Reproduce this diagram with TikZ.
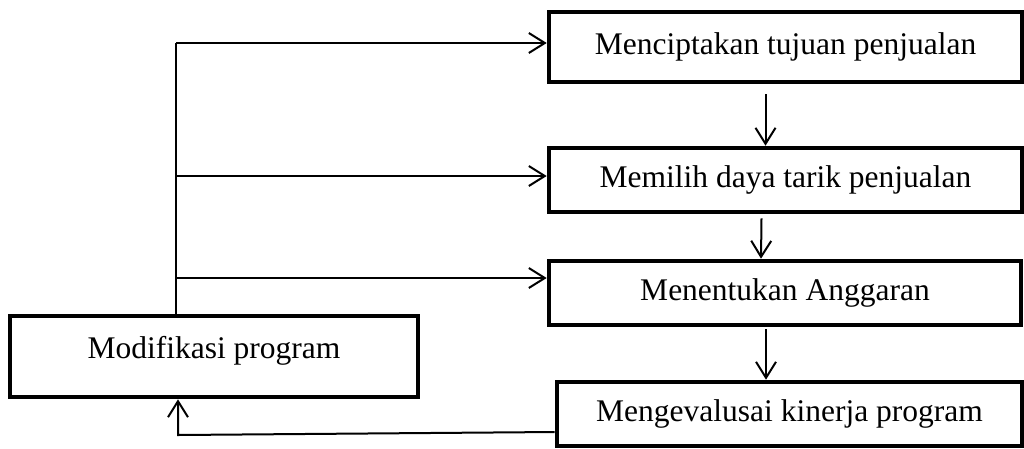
\documentclass[tikz,border=0pt]{standalone}
\usepackage{fontspec}
\setmainfont{Liberation Serif}
\usetikzlibrary{arrows.meta}
\begin{document}
\begin{tikzpicture}[x=1pt,y=-1pt,
  box/.style={draw, line width=4.6pt, minimum height=64pt, inner sep=0pt,
    font=\fontsize{31.5}{36}\selectfont, anchor=center},
  conn/.style={line width=2pt},
  arr/.style={conn, -{Straight Barb[length=16pt,width=20pt,line width=2pt]}}]
\useasboundingbox (0,0) rectangle (1024,448);
\node[box, minimum width=473pt, minimum height=70pt] (b1) at (785.5,47) {Menciptakan tujuan penjualan};
\node[box, minimum width=473pt] (b2) at (785.5,180) {Memilih daya tarik penjualan};
\node[box, minimum width=472pt] (b3) at (785,293) {Menentukan Anggaran};
\node[box, minimum width=465pt] (b5) at (789.5,414) {Mengevalusai kinerja program};
\node[box, minimum width=408pt, minimum height=81pt, text depth=18pt] (b4) at (214,356.5) {Modifikasi program};
\coordinate (j1) at (176,43);
\coordinate (j2) at (176,176);
\coordinate (j3) at (176,278);
\coordinate (fb) at (178,435);
\draw[conn] (j3 |- b4.north) -- (j1);
\draw[arr] (j1) -- (j1 -| b1.west);
\draw[arr] (j2) -- (j2 -| b2.west);
\draw[arr] (j3) -- (j3 -| b3.west);
\draw[arr] ([xshift=-20pt,yshift=-10pt]b1.south) -- ([xshift=-20pt]b2.north);
\draw[arr] ([xshift=-24pt,yshift=-4pt]b2.south) -- ([xshift=-24pt]b3.north);
\draw[arr] ([xshift=-19pt,yshift=-2pt]b3.south) -- ([xshift=-23.5pt]b5.north);
\draw[arr] ([yshift=-18pt]b5.west) -- (fb) -- (fb |- b4.south);
\end{tikzpicture}
\end{document}
